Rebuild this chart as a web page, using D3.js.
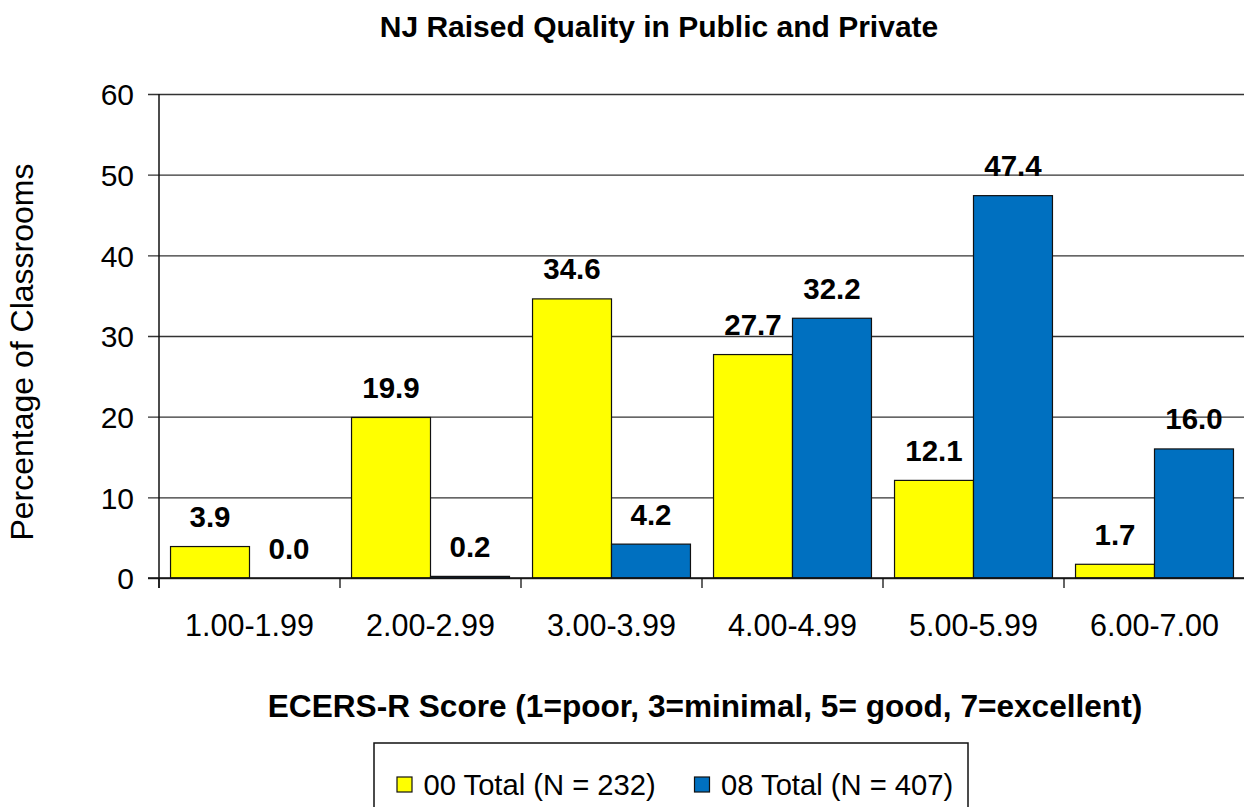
<!DOCTYPE html>
<meta charset="utf-8">
<head>
    <meta charset="utf-8">
    <script src="https://d3js.org/d3.v7.min.js"></script>
    <style>
        body { margin: 0; background: #fff; }
        text { font-family: "Liberation Sans", Arial, sans-serif; fill: #000; }
    </style>
</head>
<body>
    <svg width="1244" height="807"></svg>

    <script>
        // chart data
        var categories = ["1.00-1.99", "2.00-2.99", "3.00-3.99", "4.00-4.99", "5.00-5.99", "6.00-7.00"];
        var seriesNames = ["00 Total (N = 232)", "08 Total (N = 407)"];
        var values00 = [3.9, 19.9, 34.6, 27.7, 12.1, 1.7];
        var values08 = [0.0, 0.2, 4.2, 32.2, 47.4, 16.0];
        var yTicks = [0, 10, 20, 30, 40, 50, 60];
        var colors = ["#FFFF00", "#0070C0"];

        var svg = d3.select("svg");

        // plot area
        var plotLeft = 159, plotRight = 1245, plotTop = 94, plotBottom = 578;

        var x0 = d3.scaleBand().domain(categories).range([plotLeft, plotRight]).padding(0);
        var x1 = d3.scaleBand().domain(seriesNames).range([0, x0.bandwidth()])
            .paddingInner(0).paddingOuter(0.146);
        var y = d3.scaleLinear().domain([0, 60]).range([plotBottom, plotTop]);

        var data = categories.map(function (c, i) {
            return { cat: c, vals: [values00[i], values08[i]] };
        });

        // gridlines (with left tick stubs)
        svg.append("g")
            .attr("transform", "translate(" + plotLeft + ",0)")
            .call(d3.axisLeft(y).tickValues(yTicks).tickSize(11).tickPadding(14))
            .call(function (g) {
                g.select(".domain").remove();
                g.selectAll(".tick line").attr("stroke", "#333").attr("stroke-width", 1.3)
                    .attr("x2", plotRight - plotLeft).attr("x1", -11);
                g.selectAll(".tick text")
                    .attr("x", -25)
                    .attr("dy", "0.36em")
                    .style("font-size", "30px")
                    .style("font-family", "'Liberation Sans', Arial, sans-serif")
                    .attr("fill", "#000");
            });

        // bars
        var groups = svg.append("g").selectAll("g")
            .data(data)
            .enter().append("g")
            .attr("transform", function (d) { return "translate(" + x0(d.cat) + ",0)"; });

        groups.selectAll("rect")
            .data(function (d) { return d.vals.map(function (v, j) { return { key: seriesNames[j], v: v, j: j }; }); })
            .enter().append("rect")
            .attr("x", function (d) { return x1(d.key); })
            .attr("y", function (d) { return y(d.v); })
            .attr("width", x1.bandwidth())
            .attr("height", function (d) { return y(0) - y(d.v); })
            .attr("fill", function (d) { return colors[d.j]; })
            .attr("stroke", "#111")
            .attr("stroke-width", 1.2);

        // value labels
        groups.selectAll("text.val")
            .data(function (d) { return d.vals.map(function (v, j) { return { key: seriesNames[j], v: v }; }); })
            .enter().append("text")
            .attr("class", "val")
            .attr("x", function (d) { return x1(d.key) + x1.bandwidth() / 2; })
            .attr("y", function (d) { return y(d.v) - 19.5; })
            .attr("text-anchor", "middle")
            .style("font-size", "29.5px")
            .style("font-weight", "bold")
            .text(function (d) { return d.v.toFixed(1); });

        // x axis (zero line, category boundary ticks)
        svg.append("line")
            .attr("x1", plotLeft - 11).attr("x2", plotRight)
            .attr("y1", y(0)).attr("y2", y(0))
            .attr("stroke", "#111").attr("stroke-width", 1.3);

        var bounds = categories.map(function (c) { return x0(c); }).concat([plotRight]);
        svg.append("g").selectAll("line")
            .data(bounds)
            .enter().append("line")
            .attr("x1", function (d) { return d; }).attr("x2", function (d) { return d; })
            .attr("y1", y(0)).attr("y2", y(0) + 10)
            .attr("stroke", "#111").attr("stroke-width", 1.3);

        svg.append("g").selectAll("text")
            .data(categories)
            .enter().append("text")
            .attr("x", function (d) { return x0(d) + x0.bandwidth() / 2; })
            .attr("y", 636)
            .attr("text-anchor", "middle")
            .style("font-size", "30.5px")
            .text(function (d) { return d; });

        // y axis line
        svg.append("line")
            .attr("x1", plotLeft).attr("x2", plotLeft)
            .attr("y1", plotTop).attr("y2", y(0) + 10)
            .attr("stroke", "#111").attr("stroke-width", 1.5);

        // titles
        svg.append("text")
            .attr("x", 659).attr("y", 37)
            .attr("text-anchor", "middle")
            .style("font-size", "30px").style("font-weight", "bold")
            .text("NJ Raised Quality in Public and Private");

        svg.append("text")
            .attr("x", 705).attr("y", 717)
            .attr("text-anchor", "middle")
            .style("font-size", "31.6px").style("font-weight", "bold")
            .text("ECERS-R Score (1=poor, 3=minimal, 5= good, 7=excellent)");

        svg.append("text")
            .attr("transform", "translate(33,352) rotate(-90)")
            .attr("text-anchor", "middle")
            .style("font-size", "32px")
            .text("Percentage of Classrooms");

        // legend
        var legend = svg.append("g");
        legend.append("rect")
            .attr("x", 374).attr("y", 743)
            .attr("width", 594).attr("height", 80)
            .attr("fill", "#fff").attr("stroke", "#111").attr("stroke-width", 1.5);

        var legendX = [397, 694.5];
        seriesNames.forEach(function (s, i) {
            legend.append("rect")
                .attr("x", legendX[i]).attr("y", 777)
                .attr("width", 15).attr("height", 15)
                .attr("fill", colors[i]).attr("stroke", "#111").attr("stroke-width", 1.2);
            legend.append("text")
                .attr("x", legendX[i] + 26.5).attr("y", 795)
                .style("font-size", "29.2px")
                .text(s);
        });
    </script>
</body>
